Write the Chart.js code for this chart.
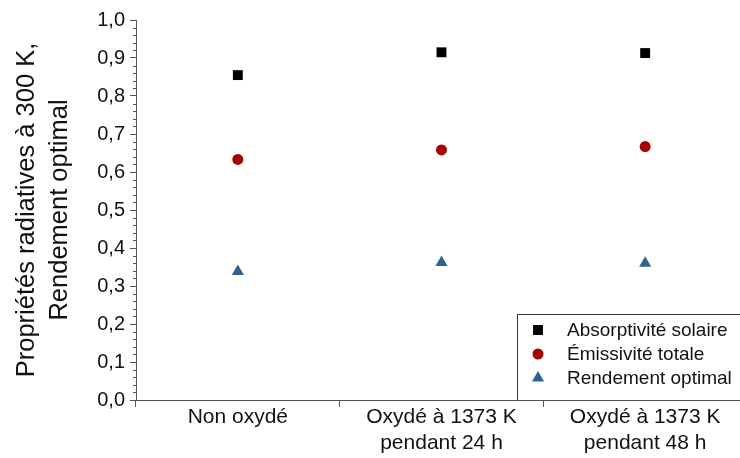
<!DOCTYPE html>
<html>
<head>
<meta charset="utf-8">
<script src="https://cdn.jsdelivr.net/npm/chart.js@4.4.1/dist/chart.umd.min.js"></script>
<style>
  html, body { margin: 0; padding: 0; background: #fff; overflow: hidden; }
  canvas { display: block; }
</style>
</head>
<body>
<canvas id="chart" width="754" height="458"></canvas>
<script>
// Data
var categories = [
    ["Non oxydé"],
    ["Oxydé à 1373 K", "pendant 24 h"],
    ["Oxydé à 1373 K", "pendant 48 h"]
];
var absorptivite = [0.855, 0.915, 0.913];
var emissivite = [0.633, 0.658, 0.667];
var rendement = [0.338, 0.362, 0.360];
var seriesNames = ["Absorptivité solaire", "Émissivité totale", "Rendement optimal"];
var yTitle = ["Propriétés radiatives à 300 K,", "Rendement optimal"];

var axisColor = "#555";
var textColor = "#111";

// Minor ticks on the y axis (every 0.02)
var minorTicks = {
    id: "minorTicks",
    afterDraw: function (chart) {
        var y = chart.scales.y;
        var ctx = chart.ctx;
        ctx.save();
        ctx.strokeStyle = axisColor;
        ctx.lineWidth = 1;
        for (var i = 0; i <= 50; i++) {
            if (i % 5 === 0) continue;
            var py = Math.round(y.getPixelForValue(i / 50)) + 0.5;
            ctx.beginPath();
            ctx.moveTo(y.right - 3, py);
            ctx.lineTo(y.right, py);
            ctx.stroke();
        }
        ctx.restore();
    }
};

// Legend box inside the plot, bottom right
var legendBox = {
    id: "legendBox",
    afterDraw: function (chart) {
        var ctx = chart.ctx;
        var area = chart.chartArea;
        var left = area.left + 381;
        var top = area.bottom - 86;
        ctx.save();
        ctx.fillStyle = "#fff";
        ctx.fillRect(left, top, chart.width - left, area.bottom - top);
        ctx.strokeStyle = "#333";
        ctx.lineWidth = 1;
        ctx.beginPath();
        ctx.moveTo(left + 0.5, area.bottom);
        ctx.lineTo(left + 0.5, top + 0.5);
        ctx.lineTo(chart.width, top + 0.5);
        ctx.stroke();
        ctx.font = "19px 'Liberation Sans', Arial, sans-serif";
        ctx.textBaseline = "middle";
        chart.data.datasets.forEach(function (ds, i) {
            var cy = top + 16 + i * 24;
            var cx = left + 21;
            ctx.fillStyle = ds.backgroundColor;
            Chart.helpers.drawPoint(ctx, {
                pointStyle: ds.pointStyle,
                radius: ds.pointRadius,
                rotation: 0,
                borderWidth: 0
            }, cx, cy);
            ctx.fillStyle = textColor;
            ctx.fillText(ds.label, left + 50, cy + 1);
        });
        ctx.restore();
    }
};

var chartData = {
    labels: categories,
    datasets: [
        {
            label: seriesNames[0],
            data: absorptivite,
            pointStyle: "rect",
            pointRadius: 7,
            backgroundColor: "#000",
            borderColor: "#000",
            borderWidth: 0
        },
        {
            label: seriesNames[1],
            data: emissivite,
            pointStyle: "circle",
            pointRadius: 5.5,
            backgroundColor: "#a80000",
            borderColor: "#a80000",
            borderWidth: 0
        },
        {
            label: seriesNames[2],
            data: rendement,
            pointStyle: "triangle",
            pointRadius: 7,
            backgroundColor: "#2e6391",
            borderColor: "#2e6391",
            borderWidth: 0
        }
    ]
};

var chartOptions = {
    responsive: false,
    animation: false,
    events: [],
    showLine: false,
    layout: {
        padding: { top: 20, right: 0, left: 0, bottom: 0 }
    },
    plugins: {
        legend: { display: false },
        tooltip: { enabled: false }
    },
    scales: {
        x: {
            type: "category",
            offset: true,
            grid: {
                offset: true,
                drawOnChartArea: false,
                drawTicks: true,
                tickLength: 7,
                color: axisColor
            },
            border: { color: axisColor, width: 1 },
            ticks: {
                color: textColor,
                padding: -3,
                maxRotation: 0,
                autoSkip: false,
                font: { family: "'Liberation Sans', Arial, sans-serif", size: 21, lineHeight: 1.24 }
            },
            afterFit: function (scale) { scale.height = 58; }
        },
        y: {
            min: 0,
            max: 1,
            grid: {
                drawOnChartArea: false,
                drawTicks: true,
                tickLength: 6,
                color: axisColor
            },
            border: { color: axisColor, width: 1 },
            ticks: {
                stepSize: 0.1,
                color: textColor,
                padding: 5,
                font: { family: "'Liberation Sans', Arial, sans-serif", size: 20 },
                callback: function (v) { return v.toFixed(1).replace(".", ","); }
            },
            title: {
                display: true,
                text: yTitle,
                color: textColor,
                padding: { top: 11, bottom: 0 },
                font: { family: "'Liberation Sans', Arial, sans-serif", size: 25.5, lineHeight: 1.28 }
            },
            afterFit: function (scale) { scale.width = 136; }
        }
    }
};

new Chart(document.getElementById("chart"), {
    type: "line",
    data: chartData,
    options: chartOptions,
    plugins: [minorTicks, legendBox]
});
</script>
</body>
</html>
